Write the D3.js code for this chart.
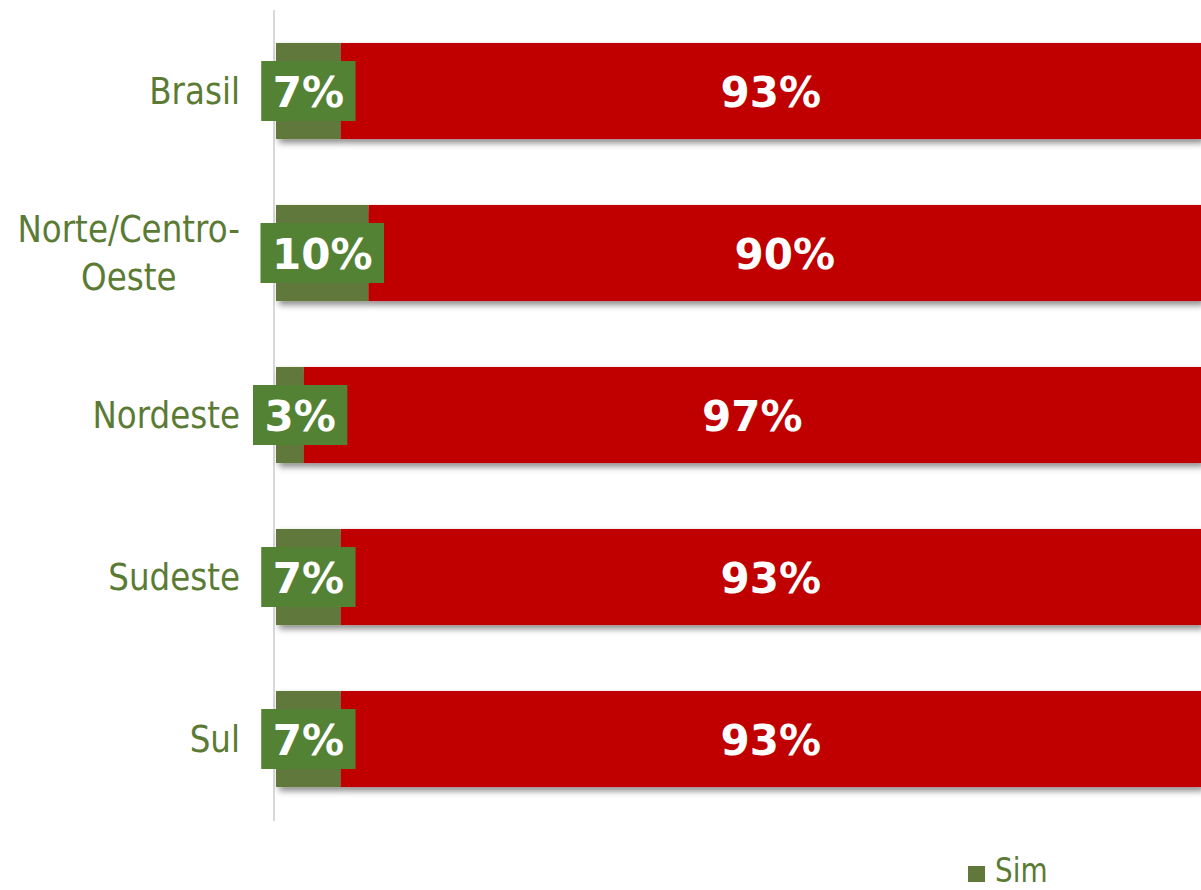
<!DOCTYPE html>
<html>
<head>
<meta charset="utf-8">
<script src="https://cdn.jsdelivr.net/npm/d3@7/dist/d3.min.js"></script>
<style>
  html, body { margin: 0; padding: 0; background: #ffffff; }
  svg { display: block; }
</style>
</head>
<body>
<svg id="chart" width="1201" height="890"></svg>
<script>
const categories = ["Brasil", "Norte/Centro-Oeste", "Nordeste", "Sudeste", "Sul"];
const simValues = [7, 10, 3, 7, 7];
const naoValues = [93, 90, 97, 93, 93];
const seriesNames = ["Sim", "Não"];

const W = 1201, H = 890;
const svg = d3.select("#chart");

const colSimBar = "#60783A";
const colSimBox = "#548235";
const colNao = "#C00000";
const colText = "#5B7B34";

const defs = svg.append("defs");
const f = defs.append("filter").attr("id", "shadow")
  .attr("x", "-5%").attr("y", "-20%").attr("width", "115%").attr("height", "150%");
f.append("feDropShadow").attr("dx", 3).attr("dy", 4).attr("stdDeviation", 3)
  .attr("flood-color", "#000").attr("flood-opacity", 0.45);

const x = d3.scaleLinear().domain([0, 100]).range([276, 1201]);
const y = d3.scaleBand().domain(categories).range([10, 820])
  .paddingInner(0.407).paddingOuter(0.2035);

// axis line
svg.append("line")
  .attr("x1", 274).attr("x2", 274).attr("y1", 10).attr("y2", 821)
  .attr("stroke", "#d9d9d9").attr("stroke-width", 2);

const rows = categories.map((c, i) => ({ cat: c, sim: simValues[i], nao: naoValues[i] }));

// bars with shadow
const barG = svg.append("g");
const rowG = barG.selectAll("g.row").data(rows).join("g")
  .attr("class", "row").attr("filter", "url(#shadow)");
rowG.append("rect")
  .attr("x", d => x(0)).attr("y", d => y(d.cat))
  .attr("width", d => x(d.sim) - x(0)).attr("height", y.bandwidth())
  .attr("fill", colSimBar);
rowG.append("rect")
  .attr("x", d => x(d.sim)).attr("y", d => y(d.cat))
  .attr("width", d => x(d.sim + d.nao) - x(d.sim)).attr("height", y.bandwidth())
  .attr("fill", colNao);

// red labels
svg.append("g").selectAll("text").data(rows).join("text")
  .attr("x", d => (x(d.sim) + x(d.sim + d.nao)) / 2)
  .attr("y", d => y(d.cat) + y.bandwidth() / 2 + 16)
  .attr("text-anchor", "middle")
  .attr("font-family", "DejaVu Sans, Verdana, sans-serif")
  .attr("font-weight", "bold").attr("font-size", 42)
  .attr("fill", "#ffffff")
  .text(d => d.nao + "%");

// green labels with box
const gl = svg.append("g").selectAll("g").data(rows).join("g");
gl.each(function(d) {
  const g = d3.select(this);
  const cy = y(d.cat) + y.bandwidth() / 2;
  const t = g.append("text")
    .attr("text-anchor", "middle")
    .attr("font-family", "DejaVu Sans, Verdana, sans-serif")
    .attr("font-weight", "bold").attr("font-size", 42)
    .attr("fill", "#ffffff")
    .text(d.sim + "%");
  const tw = t.node().getComputedTextLength();
  const bw = tw + 23, bh = 60;
  let cx = x(d.sim / 2);
  if (cx - bw / 2 < 253) cx = 253 + bw / 2;
  t.attr("x", cx).attr("y", cy + 16);
  g.insert("rect", "text")
    .attr("x", cx - bw / 2).attr("y", cy - bh / 2)
    .attr("width", bw).attr("height", bh)
    .attr("fill", colSimBox);
});

// category labels
const catG = svg.append("g");
rows.forEach(d => {
  const cy = y(d.cat) + y.bandwidth() / 2;
  const sx = 0.88, fs = 37;
  const measure = (s) => {
    const t = catG.append("text").attr("font-family", "DejaVu Sans, Tahoma, sans-serif")
      .attr("font-size", fs).text(s);
    const w = t.node().getComputedTextLength() * sx;
    t.remove();
    return w;
  };
  let lines = [d.cat];
  if (measure(d.cat) > 240) {
    const k = d.cat.lastIndexOf("-");
    lines = [d.cat.slice(0, k + 1), d.cat.slice(k + 1)];
  }
  const widths = lines.map(measure);
  const maxW = d3.max(widths);
  const right = 240;
  const lh = 48;
  const cxBlock = right - maxW / 2;
  lines.forEach((ln, j) => {
    const by = cy + 12.5 + (j - (lines.length - 1) / 2) * lh;
    const anchor = lines.length > 1 ? "middle" : "end";
    const ax = lines.length > 1 ? cxBlock : right;
    catG.append("text")
      .attr("transform", `translate(${ax},${by}) scale(${sx},1)`)
      .attr("text-anchor", anchor)
      .attr("font-family", "DejaVu Sans, Tahoma, sans-serif")
      .attr("font-size", fs)
      .attr("fill", colText)
      .text(ln);
  });
});

// legend (only "Sim" is visible within the frame)
const lg = svg.append("g");
lg.append("rect").attr("x", 968).attr("y", 866).attr("width", 17).attr("height", 16)
  .attr("fill", colSimBar);
lg.append("text")
  .attr("transform", "translate(995,882) scale(0.82,1)")
  .attr("font-family", "DejaVu Sans, Tahoma, sans-serif")
  .attr("font-size", 34).attr("fill", colText)
  .text(seriesNames[0]);
</script>
</body>
</html>
